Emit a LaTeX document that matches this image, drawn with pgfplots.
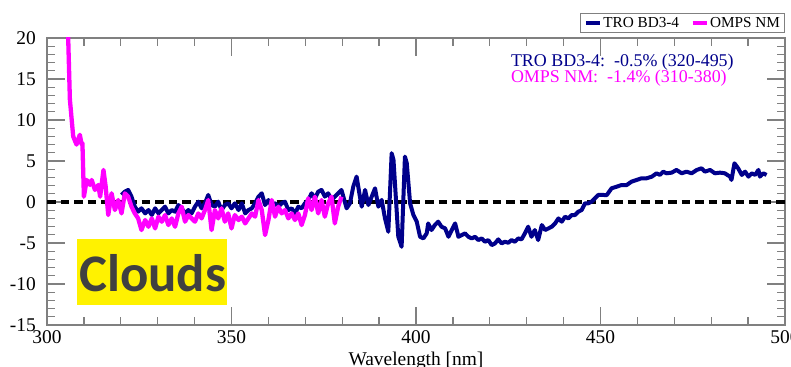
\documentclass[border=0pt]{standalone}
\usepackage{fontspec}
\setmainfont{Liberation Serif}
\newfontfamily\cloudfont{Carlito}
\usepackage{pgfplots}
\pgfplotsset{compat=1.18}
\definecolor{tronavy}{RGB}{0,0,139}
\definecolor{ompsmag}{RGB}{255,0,255}
\definecolor{axgray}{RGB}{128,128,128}
\definecolor{cloudgray}{RGB}{64,64,64}
\begin{document}
\begin{tikzpicture}
\useasboundingbox (0,0) rectangle (791bp,367bp);
\begin{axis}[
  at={(47bp,42bp)}, anchor=south west,
  width=738bp, height=287bp, scale only axis,
  xmin=300, xmax=500, ymin=-15, ymax=20,
  xtick={300,350,...,500}, ytick={-15,-10,...,20},
  minor x tick num=4, minor y tick num=4,
  tick align=inside,
  major tick length=18bp, minor tick length=8bp,
  axis line style={axgray, line width=1.3bp},
  tick style={axgray, line width=1.3bp},
  /pgf/number format/assume math mode=true,
  ticklabel style={font=\fontsize{19.5}{23}\selectfont, text=black},
  xticklabel style={anchor=north, inner sep=0pt, yshift=-5bp},
  yticklabel style={anchor=east, inner sep=0pt, xshift=-11bp},
  xlabel={Wavelength [nm]},
  xlabel style={at={(axis description cs:0.5,0)}, anchor=base, yshift=-40bp, inner sep=0pt, font=\fontsize{19.5}{23}\selectfont},
  clip mode=individual,
  legend columns=2,
  legend style={at={(1,1)}, anchor=south east, yshift=5bp, draw=axgray, line width=1bp,
    font=\fontsize{15.3}{17}\selectfont, inner xsep=3bp, inner ysep=1.5bp,
    nodes={inner xsep=1.5bp, inner ysep=2bp}},
  legend image code/.code={\draw[#1, line width=4bp] (0bp,0bp) -- (14bp,0bp);},
]
\fill[yellow] (axis cs:308.1,-4.52) rectangle (axis cs:348.8,-12.59);
\node[anchor=base west, inner sep=0pt, text=cloudgray, font=\cloudfont\bfseries\fontsize{53}{60}\selectfont] at (axis cs:308.67,-10.88) {Clouds};
\addplot[black, line width=3.5bp, dash pattern=on 8.5bp off 5bp, forget plot] coordinates {(300,0) (500,0)};
\addplot[tronavy, line width=4bp, line join=round] coordinates {
(320.2,0.86) (321.1,1.26) (322.0,1.47) (322.9,0.65) (323.8,-0.57) (324.7,-1.18) (325.6,-0.77) (326.6,-1.39) (327.5,-0.98) (328.4,-1.59)
(329.3,-0.77) (330.2,-1.39) (331.1,-0.98) (332.0,-0.57) (332.9,-1.39) (333.8,-0.98) (334.7,-1.18) (335.6,-0.37) (336.5,-0.77) (337.4,-1.39)
(338.3,-0.98) (339.2,-1.39) (340.1,-0.57) (341.0,0.04) (341.9,-0.77) (342.8,-0.16) (343.7,0.86) (344.6,-0.37) (345.5,-0.57) (346.4,0.04)
(347.3,-0.98) (348.2,-0.37) (349.1,-0.16) (350.0,-0.77) (350.9,-0.16) (351.9,-0.98) (352.8,-0.16) (353.7,-1.39) (354.6,-0.98) (355.5,-0.77)
(356.4,-0.16) (357.3,0.65) (358.2,1.06) (359.1,-0.37) (360.0,0.24) (360.9,-0.57) (361.8,-0.16) (362.7,-0.57) (363.6,-0.16) (364.5,0.04)
(365.4,-0.98) (366.3,-0.77) (367.2,-1.39) (368.1,-0.57) (369.0,-0.77) (369.9,-0.16) (370.8,0.24) (371.7,1.06) (372.6,0.45) (373.5,1.26)
(374.4,1.47) (375.3,0.65) (376.2,1.06) (377.1,0.24) (378.0,0.65) (378.9,1.06) (379.8,1.47) (381.2,-0.77) (382.1,-0.16) (383.0,1.88)
(383.9,3.10) (384.8,0.65) (385.3,-0.57) (386.2,1.47) (387.1,-0.37) (388.0,0.65) (388.9,1.67) (389.8,-0.57) (390.7,0.25) (391.6,-2.00)
(392.5,-3.63) (393.4,5.95) (393.9,5.14) (395.2,-4.24) (396.1,-5.46) (397.0,5.54) (397.5,4.73) (398.4,-0.16) (399.3,-1.59) (400.2,-2.40)
(401.1,-4.24) (402.0,-4.44) (402.9,-3.83) (403.3,-2.61) (404.2,-3.42) (405.1,-2.81) (406.0,-2.40) (406.9,-3.01) (407.9,-3.22) (408.8,-4.24)
(409.7,-3.42) (410.6,-2.61) (411.5,-4.24) (412.4,-4.03) (413.3,-3.83) (414.2,-4.24) (415.1,-4.44) (416.0,-4.24) (416.9,-4.64) (417.8,-4.44)
(418.7,-4.85) (419.6,-4.64) (420.5,-5.26) (421.4,-5.05) (422.3,-4.56) (423.2,-5.05) (424.1,-4.85) (425.0,-4.97) (425.9,-4.64) (426.8,-4.85)
(427.7,-4.44) (428.6,-4.56) (429.5,-3.83) (430.4,-3.01) (431.3,-4.24) (432.2,-3.42) (433.1,-4.64) (434.1,-2.81) (435.0,-3.42) (435.9,-3.22)
(436.8,-3.01) (437.7,-2.61) (438.6,-2.00) (439.5,-2.40) (440.4,-1.79) (441.3,-2.00) (442.2,-1.59) (443.1,-1.59) (444.0,-1.18) (444.9,-0.98)
(445.8,-0.16) (446.7,-0.16) (447.6,0.04) (448.5,0.45) (449.4,0.86) (451.7,0.85) (453.0,1.67) (454.4,1.87) (455.7,2.07) (457.1,2.07)
(458.4,2.48) (459.8,2.69) (461.1,2.89) (462.5,2.89) (463.9,3.09) (465.2,3.50) (466.1,3.30) (467.0,3.70) (467.9,3.50) (469.3,3.58)
(470.6,3.91) (472.0,3.50) (473.3,3.70) (474.7,3.50) (476.1,3.91) (477.4,4.11) (478.3,3.70) (479.7,3.91) (481.0,3.50) (482.4,3.58)
(483.7,3.50) (485.1,3.09) (485.5,2.69) (486.3,4.72) (487.3,4.11) (488.3,3.30) (489.2,3.70) (490.1,3.09) (491.0,3.50) (491.9,3.30)
(492.8,3.91) (493.2,3.09) (494.1,3.50) (495.0,3.30)
};
\addlegendentry{TRO BD3-4\hspace*{10bp}}
\addplot[ompsmag, line width=4.3bp, line join=round] coordinates {
(305.5,24) (306.2,12.5) (307.1,8.0) (308.0,7.0) (308.9,8.2) (309.4,7.0) (309.6,7.2) (310.0,0.65) (310.75,2.69) (311.65,2.08)
(312.1,2.69) (313.0,1.47) (313.9,2.08) (314.4,0.65) (315.3,3.91) (315.9,1.87) (316.6,-1.59) (317.5,1.06) (318.4,-0.98) (319.3,0.24)
(320.2,-1.39) (321.1,1.06) (322.0,0.65) (322.9,-0.57) (323.8,-1.39) (324.7,-2.0) (325.6,-3.42) (326.6,-2.2) (327.5,-3.02) (328.4,-2.0)
(329.3,-3.22) (330.2,-1.79) (331.1,-2.40) (332.0,-1.59) (332.9,-2.81) (333.8,-2.0) (334.7,-3.02) (335.6,-1.39) (336.5,-0.57) (337.4,-2.40)
(338.3,-1.59) (339.2,-2.0) (340.1,-2.40) (341.0,-1.39) (341.9,-2.0) (342.8,-0.98) (343.7,0.24) (344.6,-3.42) (345.5,-0.98) (346.4,-2.0)
(347.3,-0.77) (348.2,-2.40) (349.1,-1.39) (350.0,-3.22) (350.9,-1.59) (351.9,-2.2) (352.8,-1.79) (353.7,-2.61) (354.6,-2.0) (355.5,-1.39)
(356.4,-1.79) (357.3,0.24) (358.2,-0.98) (359.1,-4.03) (360.0,-2.2) (360.9,0.24) (361.8,-1.79) (362.7,-0.57) (363.6,-1.39) (364.5,-0.98)
(365.4,-2.0) (366.3,-1.39) (367.2,-2.2) (368.1,-1.39) (369.0,-2.81) (369.9,-1.59) (370.8,0.45) (371.7,-0.98) (372.6,0.65) (373.5,-1.39)
(374.4,0.24) (375.3,-1.79) (376.2,-0.16) (377.1,0.65) (378.0,-2.61) (378.9,-0.57) (379.8,0.65)
};
\addlegendentry{OMPS NM}
\node[anchor=base west, inner sep=0pt, text=tronavy, font=\fontsize{18}{20}\selectfont] at (axis cs:425.7,16.5) {TRO BD3-4:\ \ -0.5\% (320-495)};
\node[anchor=base west, inner sep=0pt, text=ompsmag, font=\fontsize{18}{20}\selectfont] at (axis cs:425.7,14.55) {OMPS NM:\ \ -1.4\% (310-380)};
\end{axis}
\end{tikzpicture}
\end{document}
